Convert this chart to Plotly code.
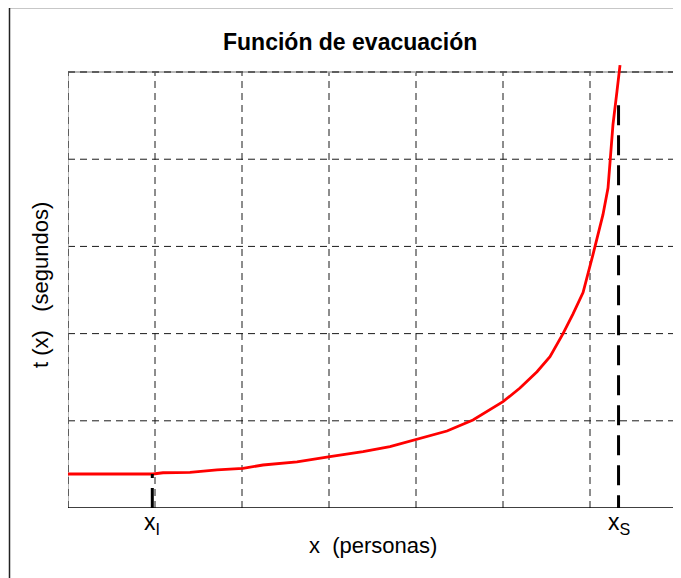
import plotly.graph_objects as go

# ---- data (grid units: x in 0..7, t in 0..5) ----
x_vals = [0.00, 0.598, 0.977, 1.092, 1.402, 1.713, 2.011, 2.241, 2.632, 3.011, 3.391,
          3.701, 4.011, 4.356, 4.655, 4.851, 5.000, 5.195, 5.391, 5.540, 5.690, 5.805,
          5.920, 6.034, 6.149, 6.207, 6.230, 6.264, 6.310, 6.345]
t_vals = [0.390, 0.390, 0.390, 0.404, 0.409, 0.438, 0.454, 0.493, 0.528, 0.588, 0.646,
          0.703, 0.787, 0.883, 1.009, 1.124, 1.219, 1.376, 1.563, 1.735, 1.999, 2.227,
          2.470, 2.905, 3.364, 3.670, 4.014, 4.396, 4.778, 5.080]
x_I = 0.969
t_I = 0.390
x_S = 6.328
t_S_top = 4.62
x_grid = [1, 2, 3, 4, 5, 6]
t_grid = [1, 2, 3, 4]
x_max = 7
t_max = 5
t_over = 5.115

title_text = "Función de evacuación"
xlabel = "x\u00a0\u00a0(personas)"
ylabel = "t\u00a0(x)\u00a0\u00a0\u00a0(segundos)"

# the page places the figure 8px from the top-left corner of the window
OFF = 8
W, H = 681 - OFF, 578 - OFF
# plot area in window pixels (reference coordinates)
L_ref, R_ref, T_ref, B_ref = 68, 677, 62, 508
L, R, T, B = L_ref - OFF, R_ref - OFF, T_ref - OFF, B_ref - OFF
FONT = "Liberation Sans, Arial, sans-serif"

def px_x(px):
    return (px - L_ref) / (R_ref - L_ref)

def px_y(py):
    return (B_ref - py) / (B_ref - T_ref)

fig = go.Figure()

# red curve
fig.add_trace(go.Scatter(x=x_vals, y=t_vals, mode="lines",
                         line=dict(color="#ff0000", width=2.8),
                         hoverinfo="skip", showlegend=False))
# x_I marker (drawn bottom -> top)
fig.add_trace(go.Scatter(x=[x_I, x_I], y=[0, t_I], mode="lines",
                         line=dict(color="black", width=3, dash="20px,10px"),
                         hoverinfo="skip", showlegend=False))
# x_S marker (drawn top -> bottom)
fig.add_trace(go.Scatter(x=[x_S, x_S], y=[t_S_top, 0], mode="lines",
                         line=dict(color="black", width=3, dash="20px,10px"),
                         hoverinfo="skip", showlegend=False))

shapes = []
grid_line = dict(color="#1a1a1a", width=1, dash="7px,5px")
for gx in x_grid:
    shapes.append(dict(type="line", xref="x", yref="y", x0=gx, x1=gx, y0=0, y1=t_max,
                       line=grid_line, layer="below"))
for gy in t_grid:
    shapes.append(dict(type="line", xref="x", yref="y", x0=0, x1=x_max, y0=gy, y1=gy,
                       line=grid_line, layer="below"))
# top & left frame: gray + dashed
for (a0, a1, b0, b1) in [(0, x_max, t_max, t_max), (0, 0, 0, t_max)]:
    shapes.append(dict(type="line", xref="x", yref="y", x0=a0, x1=a1, y0=b0, y1=b1,
                       line=dict(color="#a0a0a0", width=1.5), layer="below"))
    shapes.append(dict(type="line", xref="x", yref="y", x0=a0, x1=a1, y0=b0, y1=b1,
                       line=dict(color="#404040", width=1.5, dash="7px,5px"), layer="below"))
# bottom & right frame: solid black
shapes.append(dict(type="line", xref="x", yref="y", x0=0, x1=x_max, y0=0, y1=0,
                   line=dict(color="black", width=1.5)))
shapes.append(dict(type="line", xref="x", yref="y", x0=x_max, x1=x_max, y0=0, y1=t_max,
                   line=dict(color="black", width=1.5)))
# outer figure border (left & top)
shapes.append(dict(type="line", xref="paper", yref="paper",
                   x0=px_x(9.5), x1=px_x(9.5), y0=px_y(7.5), y1=px_y(600),
                   line=dict(color="#222222", width=1.5)))
shapes.append(dict(type="line", xref="paper", yref="paper",
                   x0=px_x(9.5), x1=px_x(700), y0=px_y(7.5), y1=px_y(7.5),
                   line=dict(color="#222222", width=1.5)))

annotations = [
    dict(text="<b>" + title_text + "</b>", xref="paper", yref="paper",
         x=px_x(350), y=px_y(42), showarrow=False, xanchor="center", yanchor="middle",
         font=dict(family=FONT, size=23, color="black")),
    dict(text=xlabel, xref="paper", yref="paper",
         x=px_x(372.5), y=px_y(545), showarrow=False, xanchor="center", yanchor="middle",
         font=dict(family=FONT, size=22, color="black")),
    dict(text=ylabel, xref="paper", yref="paper", textangle=-90,
         x=px_x(40), y=px_y(285), showarrow=False, xanchor="center", yanchor="middle",
         font=dict(family=FONT, size=22, color="black")),
    dict(text="x<sub>I</sub>", xref="x", yref="paper",
         x=x_I, y=px_y(523), showarrow=False, xanchor="center", yanchor="middle",
         font=dict(family=FONT, size=23, color="black")),
    dict(text="x<sub>S</sub>", xref="x", yref="paper",
         x=x_S, y=px_y(523), showarrow=False, xanchor="center", yanchor="middle",
         font=dict(family=FONT, size=23, color="black")),
]

fig.update_layout(
    width=W, height=H,
    margin=dict(l=L, r=W - R, t=T, b=H - B, pad=0),
    paper_bgcolor="white", plot_bgcolor="white",
    shapes=shapes, annotations=annotations,
    showlegend=False,
    xaxis=dict(range=[0, x_max], showgrid=False, zeroline=False, showticklabels=False,
               ticks="", showline=False, fixedrange=True),
    yaxis=dict(range=[0, t_over], showgrid=False, zeroline=False, showticklabels=False,
               ticks="", showline=False, fixedrange=True),
)

fig.write_html("out.html", config={"displayModeBar": False})
